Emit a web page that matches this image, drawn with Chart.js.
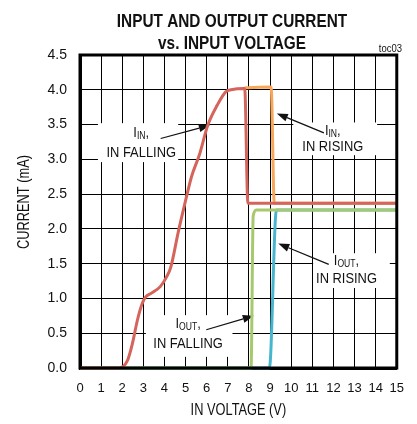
<!DOCTYPE html>
<html>
<head>
<meta charset="utf-8">
<script src="https://cdn.jsdelivr.net/npm/chart.js@4/dist/chart.umd.min.js"></script>
<style>
  html, body { margin: 0; padding: 0; background: #fff; overflow: hidden; }
  #wrap { width: 417px; height: 424px; position: relative; }
  canvas { display: block; }
</style>
</head>
<body>
<div id="wrap"><canvas id="c"></canvas></div>
<script>
// values: input voltage (V) vs current (mA)
const inFallV = [0, 1.85, 2.25, 2.48, 2.72, 2.95, 3.1, 3.4, 3.8, 4.1, 4.3, 4.65, 4.97, 5.28, 5.67, 6.05, 6.5, 6.9, 7.15, 7.8, 7.95, 15];
const inFallI = [0, 0, 0.11, 0.35, 0.69, 0.93, 1.02, 1.08, 1.17, 1.31, 1.45, 1.95, 2.37, 2.75, 3.08, 3.49, 3.78, 3.97, 4.0, 4.02, 2.37, 2.37];
const inRiseV = [7.8, 9.05, 9.2, 15];
const inRiseI = [4.03, 4.04, 2.37, 2.37];
const outFallV = [0, 8.1, 8.2, 8.35, 15];
const outFallI = [0, 0, 2.18, 2.27, 2.27];
const outRiseV = [0, 8.97, 9.3, 15];
const outRiseI = [0, 0, 2.27, 2.27];

const xTicks = [0, 1, 2, 3, 4, 5, 6, 7, 8, 9, 10, 11, 12, 13, 14, 15];
const yTicks = [0, 0.5, 1, 1.5, 2, 2.5, 3, 3.5, 4, 4.5];

const titleLines = ["INPUT AND OUTPUT CURRENT", "vs. INPUT VOLTAGE"];
const tocLabel = "toc03";
const xTitle = "IN VOLTAGE (V)";
const yTitle = "CURRENT (mA)";

// callouts: box, text and arrow in data units (V, mA)
const callouts = [
  { sub: "IN", text: "IN FALLING", box: [0.85, 4.65, 2.96, 3.52], tx: 2.9, l1: 3.38, l2: 3.10, from: [3.82, 3.30], to: [6.15, 3.49] },
  { sub: "IN", text: "IN RISING", box: [10.1, 14.07, 3.06, 3.53], tx: 11.97, l1: 3.41, l2: 3.18, from: [11.55, 3.38], to: [9.32, 3.66] },
  { sub: "OUT", text: "IN RISING", box: [11.04, 14.67, 1.15, 1.65], tx: 12.62, l1: 1.54, l2: 1.28, from: [11.78, 1.49], to: [9.39, 1.79] },
  { sub: "OUT", text: "IN FALLING", box: [3.12, 7.22, 0.16, 0.76], tx: 5.12, l1: 0.63, l2: 0.345, from: [5.98, 0.55], to: [8.23, 0.75] },
];

const FONT = "'Liberation Sans', Arial, sans-serif";

function pts(xs, ys) {
  return xs.map((x, i) => ({ x: x, y: ys[i] }));
}

// condensed text: horizontal squeeze of a regular face
function narrowText(ctx, str, x, y, font, sx, align) {
  ctx.save();
  ctx.font = font;
  ctx.textAlign = align || "center";
  ctx.translate(x, y);
  ctx.scale(sx, 1);
  ctx.fillText(str, 0, 0);
  ctx.restore();
}

function arrow(ctx, x1, y1, x2, y2) {
  const a = Math.atan2(y2 - y1, x2 - x1);
  const len = 11, w = 4;
  ctx.beginPath();
  ctx.moveTo(x1, y1);
  ctx.lineTo(x2 - len * Math.cos(a), y2 - len * Math.sin(a));
  ctx.stroke();
  ctx.beginPath();
  ctx.moveTo(x2, y2);
  ctx.lineTo(x2 - len * Math.cos(a) + w * Math.sin(a), y2 - len * Math.sin(a) - w * Math.cos(a));
  ctx.lineTo(x2 - len * Math.cos(a) - w * Math.sin(a), y2 - len * Math.sin(a) + w * Math.cos(a));
  ctx.closePath();
  ctx.fill();
}

const SX = 0.86;

const calloutPlugin = {
  id: "callouts",
  beforeDatasetsDraw(chart) {
    const ctx = chart.ctx;
    const xs = chart.scales.x, ys = chart.scales.y;
    ctx.save();
    callouts.forEach((c) => {
      const bx1 = xs.getPixelForValue(c.box[0]), bx2 = xs.getPixelForValue(c.box[1]);
      const by1 = ys.getPixelForValue(c.box[3]), by2 = ys.getPixelForValue(c.box[2]);
      ctx.fillStyle = "#fff";
      ctx.fillRect(bx1, by1, bx2 - bx1, by2 - by1);

      const cx = xs.getPixelForValue(c.tx);
      ctx.fillStyle = "#111";
      ctx.textBaseline = "middle";
      const big = "15px " + FONT, small = "10px " + FONT;
      ctx.font = big;
      const wI = ctx.measureText("I").width * SX;
      const wC = ctx.measureText(",").width * SX;
      ctx.font = small;
      const wS = ctx.measureText(c.sub).width * SX;
      let x = cx - (wI + wS + wC) / 2;
      const y1 = ys.getPixelForValue(c.l1);
      narrowText(ctx, "I", x, y1, big, SX, "left");
      x += wI;
      narrowText(ctx, c.sub, x, y1 + 3, small, SX, "left");
      x += wS;
      narrowText(ctx, ",", x, y1, big, SX, "left");
      narrowText(ctx, c.text, cx, ys.getPixelForValue(c.l2), big, SX, "center");

      ctx.strokeStyle = "#111";
      ctx.lineWidth = 1.2;
      arrow(ctx,
        xs.getPixelForValue(c.from[0]), ys.getPixelForValue(c.from[1]),
        xs.getPixelForValue(c.to[0]), ys.getPixelForValue(c.to[1]));
    });
    ctx.restore();
  },
  afterDraw(chart) {
    const ctx = chart.ctx;
    const area = chart.chartArea;
    ctx.save();
    ctx.strokeStyle = "#000";
    ctx.lineWidth = 3;
    ctx.strokeRect(area.left, area.top, area.right - area.left, area.bottom - area.top);
    ctx.fillStyle = "#111";
    ctx.textBaseline = "middle";
    narrowText(ctx, titleLines[0], 232, 22, "bold 18.5px " + FONT, 0.83, "center");
    narrowText(ctx, titleLines[1], 232, 44, "bold 18.5px " + FONT, 0.83, "center");
    ctx.textBaseline = "alphabetic";
    narrowText(ctx, tocLabel, 402, 52, "10px " + FONT, 0.95, "right");
    ctx.textBaseline = "middle";
    narrowText(ctx, xTitle, (area.left + area.right) / 2, 411, "16px " + FONT, 0.8, "center");
    ctx.translate(25, 202);
    ctx.rotate(-Math.PI / 2);
    narrowText(ctx, yTitle, 0, 0, "16px " + FONT, 0.8, "center");
    ctx.restore();
  },
};

const lineStyle = { borderWidth: 3, pointRadius: 0, cubicInterpolationMode: "monotone", clip: 5, fill: false };

new Chart(document.getElementById("c"), {
  type: "line",
  data: {
    datasets: [
      Object.assign({ label: "IIN, IN FALLING", data: pts(inFallV, inFallI), borderColor: "#D5645A" }, lineStyle),
      Object.assign({ label: "IOUT, IN FALLING", data: pts(outFallV, outFallI), borderColor: "#A5C96C" }, lineStyle),
      Object.assign({ label: "IIN, IN RISING", data: pts(inRiseV, inRiseI), borderColor: "#F7A65A" }, lineStyle),
      Object.assign({ label: "IOUT, IN RISING", data: pts(outRiseV, outRiseI), borderColor: "#48B5CE" }, lineStyle),
    ],
  },
  plugins: [calloutPlugin],
  options: {
    responsive: true,
    maintainAspectRatio: false,
    animation: false,
    layout: { padding: { top: 55, right: 15, left: 0, bottom: 0 } },
    plugins: { legend: { display: false }, tooltip: { enabled: false } },
    scales: {
      x: {
        type: "linear",
        min: 0,
        max: 15,
        afterFit: (s) => { s.height = 56; },
        afterBuildTicks: (s) => { s.ticks = xTicks.map((v) => ({ value: v })); },
        grid: { color: "#000", lineWidth: 1, drawTicks: false },
        border: { color: "#000", width: 3 },
        ticks: { color: "#111", padding: 13, maxRotation: 0, font: { family: FONT, size: 13 } },
      },
      y: {
        min: 0,
        max: 4.5,
        afterFit: (s) => { s.width = 80; },
        afterBuildTicks: (s) => { s.ticks = yTicks.map((v) => ({ value: v })); },
        grid: { color: "#000", lineWidth: 1, drawTicks: false },
        border: { color: "#000", width: 3 },
        ticks: { color: "#111", padding: 13, font: { family: FONT, size: 14 }, callback: (v) => v.toFixed(1) },
      },
    },
  },
});
</script>
</body>
</html>
